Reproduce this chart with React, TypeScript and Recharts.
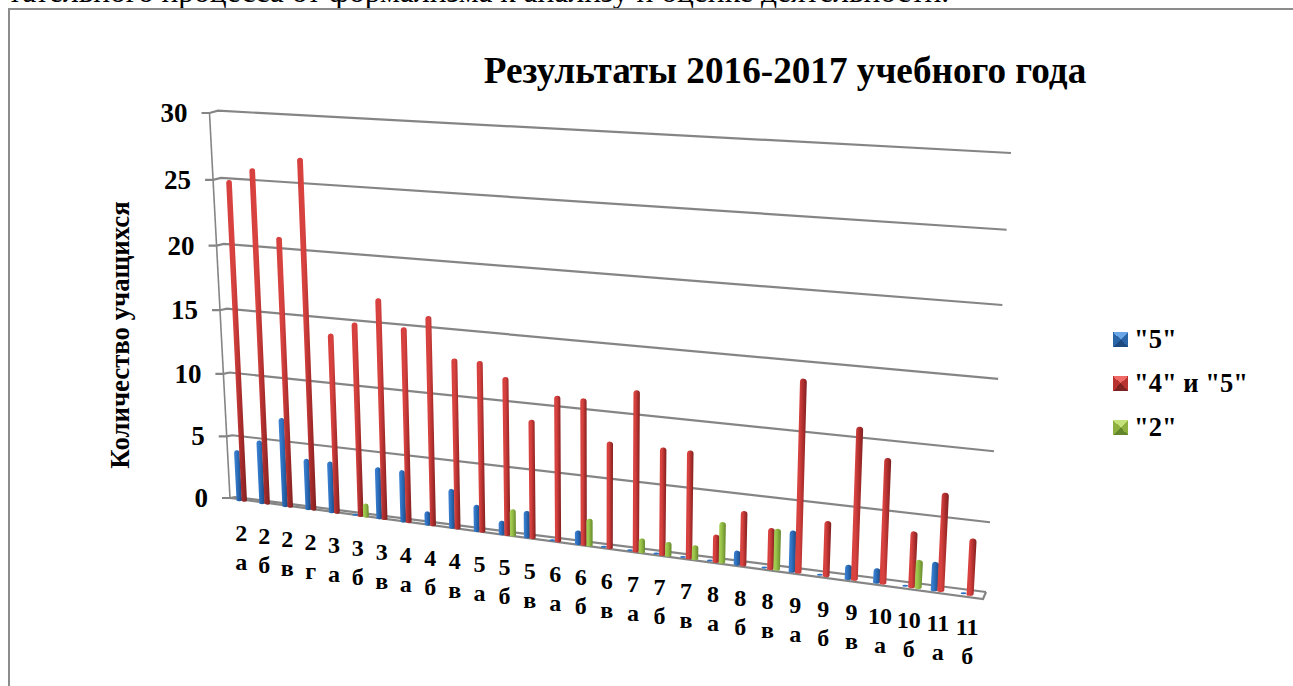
import { BarChart, Bar, XAxis, YAxis, CartesianGrid, Legend } from "recharts";

const classes = ["2 а", "2 б", "2 в", "2 г", "3 а", "3 б", "3 в", "4 а", "4 б", "4 в", "5 а", "5 б", "5 в", "6 а", "6 б", "6 в", "7 а", "7 б", "7 в", "8 а", "8 б", "8 в", "9 а", "9 б", "9 в", "10 а", "10 б", "11 а", "11 б"];
const fives = [4, 5, 7, 4, 4, 0, 4, 4, 1, 3, 2, 1, 2, 0, 1, 0, 0, 0, 0, 0, 1, 0, 3, 0, 1, 1, 0, 2, 0];
const fours = [25, 26, 21, 27, 14, 15, 17, 15, 16, 13, 13, 12, 9, 11, 11, 8, 12, 8, 8, 2, 4, 3, 14, 4, 11, 9, 4, 7, 4];
const twos = [0, 0, 0, 0, 0, 1, 0, 0, 0, 0, 0, 2, 0, 0, 2, 0, 1, 1, 1, 3, 0, 3, 0, 0, 0, 0, 2, 0, 0];
const yTicks = [0, 5, 10, 15, 20, 25, 30];

const chartData = classes.map((label, i) => ({ label, fives: fives[i], fours: fours[i], twos: twos[i] }));

const W = 1293;
const H = 686;
const plot = { left: 232, top: 113, width: 753, height: 387 };
const FONT = "'Liberation Serif', serif";
const GRID = "#858585";

type Pt = [number, number];

// unit square -> quadrilateral, corners: (0,0) (1,0) (1,1) (0,1)
function homography(p0: Pt, p1: Pt, p2: Pt, p3: Pt) {
  const dx1 = p1[0] - p2[0];
  const dx2 = p3[0] - p2[0];
  const sx = p0[0] - p1[0] + p2[0] - p3[0];
  const dy1 = p1[1] - p2[1];
  const dy2 = p3[1] - p2[1];
  const sy = p0[1] - p1[1] + p2[1] - p3[1];
  const den = dx1 * dy2 - dx2 * dy1;
  const g = (sx * dy2 - dx2 * sy) / den;
  const h = (dx1 * sy - sx * dy1) / den;
  const a = p1[0] - p0[0] + g * p1[0];
  const b = p3[0] - p0[0] + h * p3[0];
  const d = p1[1] - p0[1] + g * p1[1];
  const e = p3[1] - p0[1] + h * p3[1];
  return (u: number, v: number): Pt => {
    const w = g * u + h * v + 1;
    return [(a * u + b * v + p0[0]) / w, (d * u + e * v + p0[1]) / w];
  };
}

const backWall = homography([235, 497], [986, 592], [1011, 153], [218, 110.7]);
const frontWall = homography([230, 498], [983, 599], [1003, 158], [209.5, 113]);
const barWall = homography([233, 499], [985, 596], [1008, 156], [214, 112]);

const toU = (x: number) => (x - plot.left) / plot.width;
const toV = (y: number) => (plot.top + plot.height - y) / plot.height;

function GridRow(props: any) {
  const v = toV(props.y1);
  const a = backWall(0, v);
  const b = backWall(1, v);
  const f = frontWall(0, v);
  const isFloor = Math.abs(v) < 0.001;
  const isTop = Math.abs(v - 1) < 0.001;
  const floorPts = [frontWall(0, 0), frontWall(1, 0), backWall(1, 0)];
  const axisBottom = frontWall(0, 0);
  return (
    <g key={props.key} stroke={GRID} fill="none" strokeWidth={2.2}>
      <polyline points={`${f[0] - 8},${f[1]} ${f[0]},${f[1]} ${a[0]},${a[1]} ${b[0]},${b[1]}`} />
      {isFloor && <polyline points={floorPts.map((p) => p.join(",")).join(" ")} />}
      {isTop && <line x1={f[0]} y1={f[1]} x2={axisBottom[0]} y2={axisBottom[1]} strokeWidth={1.6} />}
    </g>
  );
}

function makeBar(gradient: string, flatColor?: string) {
  return function BarMark(props: any) {
    const { x, y, width, height } = props;
    const u0 = toU(x);
    const u1 = toU(x + width);
    const vTop = toV(y);
    const vBase = toV(y + height);
    const bl = barWall(u0, vBase);
    const br = barWall(u1, vBase);
    if (!(height > 0)) {
      if (!flatColor) return null;
      return <ellipse cx={(bl[0] + br[0]) / 2} cy={(bl[1] + br[1]) / 2} rx={3} ry={1} fill={flatColor} />;
    }
    const tl = barWall(u0, vTop);
    const tr = barWall(u1, vTop);
    const r = (tr[0] - tl[0]) / 2;
    // the rounded cap stays inside the value, so its tip is what reads against the grid
    const d = `M${bl[0]},${bl[1]} L${tl[0]},${tl[1] + r} A${r},${r} 0 0 1 ${tr[0]},${tr[1] + r} L${br[0]},${br[1]} A${r},${r * 0.5} 0 0 1 ${bl[0]},${bl[1]} Z`;
    return <path d={d} fill={`url(#${gradient})`} />;
  };
}

function ClassTick(props: any) {
  const [first, second] = String(props.payload.value).split(" ");
  const p = barWall(toU(props.x), 0);
  const tx = p[0] - 3;
  const ty = p[1] + 33;
  return (
    <g fontFamily={FONT} fontWeight="bold" fontSize={24} fill="#000" textAnchor="middle">
      <text x={tx} y={ty} dominantBaseline="central">{first}</text>
      <text x={tx} y={ty + 29} dominantBaseline="central">{second}</text>
    </g>
  );
}

function CountTick(props: any) {
  const f = frontWall(0, toV(props.y));
  return (
    <text x={f[0] - 22} y={f[1]} textAnchor="end" dominantBaseline="central" fontFamily={FONT} fontWeight="bold" fontSize={27} fill="#000">
      {props.payload.value}
    </text>
  );
}

function LegendList(props: any) {
  return (
    <div style={{ fontFamily: FONT, fontWeight: "bold", fontSize: 26.5, color: "#000" }}>
      {(props.payload || []).map((item: any) => (
        <div key={item.value} style={{ display: "flex", alignItems: "center", height: 44, whiteSpace: "nowrap" }}>
          <span
            style={{
              display: "inline-block",
              width: 15,
              height: 15,
              marginRight: 6,
              background: `conic-gradient(from 315deg, ${item.payload.lightColor} 0 25%, ${item.color} 25% 50%, ${item.payload.darkColor} 50% 75%, ${item.color} 75% 100%)`,
            }}
          />
          {item.value}
        </div>
      ))}
    </div>
  );
}

function Gradient({ id, stops }: { id: string; stops: string[] }) {
  return (
    <linearGradient id={id} x1="0" y1="0" x2="1" y2="0">
      <stop offset="0%" stopColor={stops[0]} />
      <stop offset="35%" stopColor={stops[1]} />
      <stop offset="70%" stopColor={stops[2]} />
      <stop offset="100%" stopColor={stops[3]} />
    </linearGradient>
  );
}

export default function App() {
  return (
    <div style={{ position: "absolute", left: 0, top: 0, width: W, height: H, overflow: "hidden", background: "#fff" }}>
      <BarChart
        width={W}
        height={H}
        data={chartData}
        barSize={6.2}
        barGap={-0.4}
        margin={{ top: plot.top, left: plot.left - 60, right: W - plot.left - plot.width, bottom: H - plot.top - plot.height - 60 }}
      >
        <defs>
          <Gradient id="blueBar" stops={["#3f82d0", "#2f74c4", "#245c9f", "#1b4a82"]} />
          <Gradient id="redBar" stops={["#d63f3d", "#d84340", "#ab2d2c", "#7e2120"]} />
          <Gradient id="greenBar" stops={["#a6cf55", "#9cc64b", "#7fa53a", "#64862b"]} />
        </defs>
        <text x={8} y={2} fontFamily={FONT} fontSize={31.5} fill="#000">
          тательного процесса от формализма к анализу и оценке деятельности.
        </text>
        <path d={`M9,${H} L9,9 L${W},9`} fill="none" stroke="#8c8c8c" strokeWidth={2} />
        <text x={785} y={70} textAnchor="middle" dominantBaseline="central" fontFamily={FONT} fontWeight="bold" fontSize={37.2} fill="#000">
          Результаты 2016-2017 учебного года
        </text>
        <text
          transform="translate(120 335) rotate(-90)"
          textAnchor="middle"
          dominantBaseline="central"
          fontFamily={FONT}
          fontWeight="bold"
          fontSize={26.8}
          fill="#000"
        >
          Количество учащихся
        </text>
        <CartesianGrid vertical={false} horizontal={GridRow} />
        <XAxis dataKey="label" interval={0} axisLine={false} tickLine={false} height={60} tick={ClassTick} />
        <YAxis domain={[0, 30]} ticks={yTicks} width={60} axisLine={false} tickLine={false} tick={CountTick} />
        <Legend
          layout="horizontal"
          verticalAlign="middle"
          align="center"
          itemSorter={null}
          content={LegendList}
          wrapperStyle={{ left: 1113, top: 317, width: 180 }}
        />
        <Bar dataKey="fives" name={'"5"'} fill="#2a65a8" lightColor="#6aa6e6" darkColor="#1d4a80" shape={makeBar("blueBar", "#2f74c4")} isAnimationActive={false} />
        <Bar dataKey="fours" name={'"4" и "5"'} fill="#b83230" lightColor="#ef6a66" darkColor="#7e2120" shape={makeBar("redBar")} isAnimationActive={false} />
        <Bar dataKey="twos" name={'"2"'} fill="#8db03f" lightColor="#c5e27a" darkColor="#64862b" shape={makeBar("greenBar")} isAnimationActive={false} />
      </BarChart>
    </div>
  );
}
